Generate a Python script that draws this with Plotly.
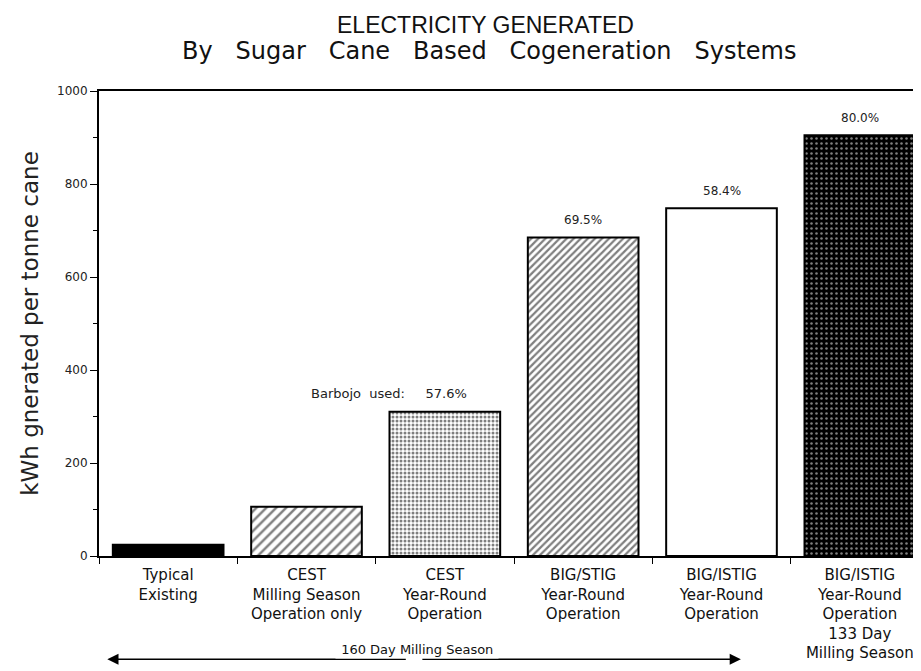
import plotly.graph_objects as go

categories = [
    "Typical<br>Existing",
    "CEST<br>Milling Season<br>Operation only",
    "CEST<br>Year-Round<br>Operation",
    "BIG/STIG<br>Year-Round<br>Operation",
    "BIG/ISTIG<br>Year-Round<br>Operation",
    "BIG/ISTIG<br>Year-Round<br>Operation<br>133 Day<br>Milling Season",
]
values = [24, 106, 310, 685, 748, 905]
bar_labels = ["", "", "Barbojo  used:     57.6%", "69.5%", "58.4%", "80.0%"]
y_ticks = [0, 200, 400, 600, 800, 1000]

FONT = "DejaVu Sans, Liberation Sans, sans-serif"
TFONT = "Liberation Sans, Arial, sans-serif"

fig = go.Figure()

styles = [
    dict(color="black", pattern=dict(shape="")),
    dict(color="white", pattern=dict(shape="/", fgcolor="black", bgcolor="white", size=7, solidity=0.35)),
    dict(color="white", pattern=dict(shape=".", fgcolor="black", bgcolor="white", size=4, solidity=0.45)),
    dict(color="white", pattern=dict(shape="/", fgcolor="black", bgcolor="white", size=5, solidity=0.45)),
    dict(color="white", pattern=dict(shape="")),
    dict(color="black", pattern=dict(shape=".", fgcolor="white", bgcolor="black", size=5, solidity=0.2)),
]

for i, (c, v) in enumerate(zip(categories, values)):
    fig.add_trace(go.Bar(
        x=[c], y=[v], width=0.8,
        marker=dict(color=styles[i]["color"], pattern=styles[i]["pattern"],
                    line=dict(color="black", width=2)),
        showlegend=False,
    ))

for i, (c, v, t) in enumerate(zip(categories, values, bar_labels)):
    if t:
        if i == 2:
            fig.add_annotation(x=c, y=v, text=t, showarrow=False, yshift=18,
                               xanchor="right", xshift=24,
                               font=dict(family=FONT, size=13, color="#222"))
        else:
            fig.add_annotation(x=c, y=v, text=t, showarrow=False, yshift=17,
                               font=dict(family=FONT, size=12, color="#222"))

# Titles
fig.add_annotation(xref="paper", yref="paper", x=0.466, y=1.175, text="ELECTRICITY GENERATED",
                   showarrow=False, font=dict(family=TFONT, size=23, color="#111"))
fig.add_annotation(xref="paper", yref="paper", x=0.47, y=1.12,
                   text="By   Sugar   Cane   Based   Cogeneration   Systems",
                   showarrow=False, font=dict(family=FONT, size=24, color="#111"))

# 160 day milling season arrow
arrow_y = -0.222
fig.add_annotation(xref="x", yref="paper", x=-0.44, y=arrow_y, ax=300, ay=0,
                   text="", showarrow=True,
                   arrowhead=2, arrowsize=1.6, arrowwidth=1.4, arrowcolor="black")
fig.add_annotation(xref="x", yref="paper", x=4.14, y=arrow_y, ax=-320, ay=0,
                   text="", showarrow=True,
                   arrowhead=2, arrowsize=1.6, arrowwidth=1.4, arrowcolor="black")
fig.add_annotation(xref="x", yref="paper", x=1.8, y=arrow_y, text=" 160 Day Milling Season ",
                   showarrow=False, bgcolor="white",
                   font=dict(family=FONT, size=13, color="#111"))

fig.update_layout(
    width=921, height=671,
    margin=dict(l=91, r=0, t=83, b=123),
    plot_bgcolor="white", paper_bgcolor="white",
    bargap=0.2,
    font=dict(family=FONT, size=16, color="#111"),
)
fig.update_xaxes(
    showline=True, linecolor="black", linewidth=2, mirror=True,
    ticks="outside", tickson="boundaries", ticklen=6, tickcolor="black",
    ticklabelstandoff=4,
    tickfont=dict(family=FONT, size=15, color="#111"),
    showgrid=False, range=[-0.5, 5.5],
)
fig.update_yaxes(
    range=[0, 1000], tickvals=y_ticks, ticktext=[str(t) for t in y_ticks],
    showline=True, linecolor="black", linewidth=2,
    ticks="outside", ticklen=7, tickcolor="black",
    minor=dict(dtick=100, ticks="outside", ticklen=4, tickcolor="black"),
    showgrid=False, zeroline=False,
    tickfont=dict(family=FONT, size=12, color="#222"),
    title=dict(text="kWh gnerated per tonne cane", standoff=12,
               font=dict(family=FONT, size=23, color="#222")),
)

fig.write_html("out.html")
